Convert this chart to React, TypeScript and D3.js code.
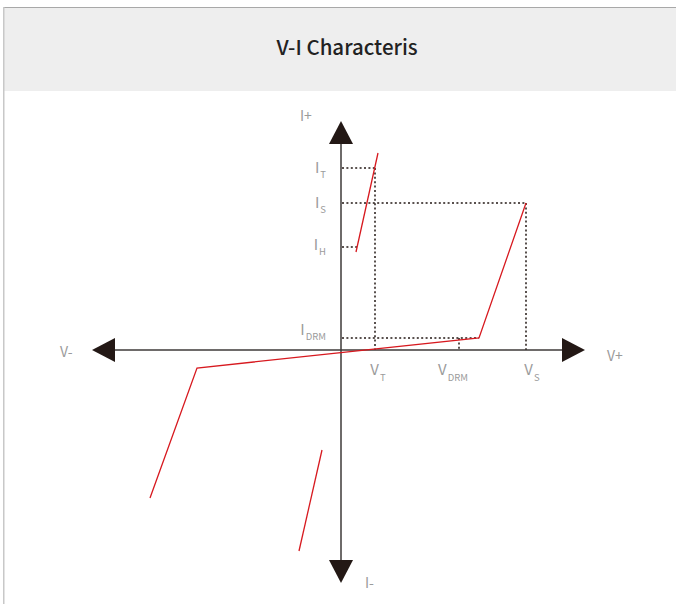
import React from "react";
import * as d3 from "d3";

const W = 676;
const H = 604;

// V-I curve, in chart units (volts right, current up)
const mainCurveV = [-38.2, -28.8, 27.6, 37];
const mainCurveI = [-29.6, -3.6, 2.4, 29.4];
const onStateV = [3, 7.4];
const onStateI = [19.6, 39.4];
const reverseV = [-3.8, -8.4];
const reverseI = [-20, -40.2];

// marked currents and how far their guide lines run
const currentNames = ["T", "S", "H", "DRM"];
const currentLevels = [36.4, 29.4, 20.6, 2.4];
const currentReach = [6.8, 37, 3.2, 27.6];

// marked voltages and the current their guide lines reach
const voltageNames = ["T", "DRM", "S"];
const voltageLevels = [6.8, 23.6, 37];
const voltageReach = [36.4, 2.4, 29.4];

const axisEndsV = [-49.8, 48.8];
const axisEndsI = [-46.6, 45.8];

const FONT = "'Noto Sans CJK SC', 'Noto Sans', sans-serif";
const LABEL = "#9b9b9b";
const INK = "#231815";
const RED = "#d7191f";

const App = () => {
  const xs = d3.scaleLinear().domain([-50, 50]).range([91, 591]);
  const ys = d3.scaleLinear().domain([-47, 46]).range([585, 120]);
  const line = d3.line<number[]>().x(d => xs(d[0])).y(d => ys(d[1]));

  const x0 = xs(0);
  const y0 = ys(0);
  const head = 23;
  const half = 12;

  const curves = [
    d3.zip(mainCurveV, mainCurveI),
    d3.zip(onStateV, onStateI),
    d3.zip(reverseV, reverseI),
  ];

  const left = xs(axisEndsV[0]);
  const right = xs(axisEndsV[1]);
  const top = ys(axisEndsI[1]);
  const bottom = ys(axisEndsI[0]);

  // small layout nudges for the subscripted labels
  const vNudge: Record<string, number> = { T: 3, DRM: -6, S: 6 };
  const iNudge: Record<string, number> = { T: 5, S: 5, H: 3, DRM: -3 };

  return (
    <div style={{ position: "absolute", left: 0, top: 0 }}>
      <svg width={W} height={H} style={{ display: "block", fontFamily: FONT }}>
        <rect x={0} y={0} width={W} height={H} fill="#fff" />
        <rect x={4} y={8} width={W - 4} height={83} fill="#eeeeee" />
        <line x1={3} x2={W} y1={7.5} y2={7.5} stroke="#a8a8a8" strokeWidth={1} />
        <line x1={3.75} x2={3.75} y1={7} y2={H} stroke="#c8c8c8" strokeWidth={1.5} />
        <text x={347} y={55} textAnchor="middle" fontSize={20.5} fontWeight={500} fill="#222">
          V-I Characteris
        </text>

        {/* dotted guides */}
        <g stroke={INK} strokeWidth={1.5} strokeDasharray="2,2.4" fill="none">
          {currentLevels.map((c, i) => (
            <line key={"h" + i} x1={x0 + 1} x2={xs(currentReach[i])} y1={ys(c)} y2={ys(c)} />
          ))}
          {voltageLevels.map((v, i) => (
            <line key={"v" + i} x1={xs(v)} x2={xs(v)} y1={ys(voltageReach[i])} y2={y0} />
          ))}
        </g>

        {/* axes */}
        <g>
          <line x1={left + head} x2={right - head} y1={y0} y2={y0} stroke="#3e3a39" strokeWidth={1.5} />
          <line x1={x0} x2={x0} y1={top + head} y2={bottom - head} stroke="#3e3a39" strokeWidth={1.5} />
          <path d={`M${left},${y0}L${left + head},${y0 - half}L${left + head},${y0 + half}Z`} fill={INK} />
          <path d={`M${right},${y0}L${right - head},${y0 - half}L${right - head},${y0 + half}Z`} fill={INK} />
          <path d={`M${x0},${top}L${x0 - half},${top + head}L${x0 + half},${top + head}Z`} fill={INK} />
          <path d={`M${x0},${bottom}L${x0 - half},${bottom - head}L${x0 + half},${bottom - head}Z`} fill={INK} />
        </g>

        {/* characteristic */}
        <g fill="none" stroke={RED} strokeWidth={1.3}>
          {curves.map((c, i) => (
            <path key={i} d={line(c as number[][]) || ""} />
          ))}
        </g>

        {/* axis names */}
        <g fill={LABEL} fontSize={14}>
          <text x={x0 - 41} y={top}>I+</text>
          <text x={x0 + 24} y={bottom + 5}>I-</text>
          <text x={left - 32} y={y0 + 7}>V-</text>
          <text x={right + 22} y={y0 + 11}>V+</text>
        </g>

        {/* current labels */}
        <g fill={LABEL}>
          {currentNames.map((n, i) => (
            <text key={n} x={x0 - 15} y={ys(currentLevels[i]) + iNudge[n]} textAnchor="end" fontSize={15}>
              I
              <tspan fontSize={9.5} dx={1} dy={5}>{n}</tspan>
            </text>
          ))}
        </g>

        {/* voltage labels */}
        <g fill={LABEL}>
          {voltageNames.map((n, i) => (
            <text key={n} x={xs(voltageLevels[i]) + vNudge[n]} y={y0 + 25} textAnchor="middle" fontSize={15}>
              V
              <tspan fontSize={9.5} dx={1} dy={6}>{n}</tspan>
            </text>
          ))}
        </g>
      </svg>
    </div>
  );
};

export default App;
